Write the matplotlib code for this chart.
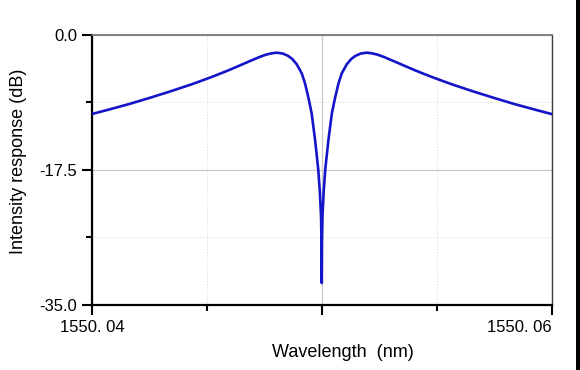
import matplotlib
matplotlib.use("Agg")
import matplotlib.pyplot as plt
from matplotlib.patches import Rectangle
from matplotlib.ticker import FixedLocator

plt.rcParams["font.family"] = ["Liberation Sans", "DejaVu Sans"]

# values
wavelength = [
    1550.04000, 1550.04078, 1550.04165, 1550.04252, 1550.04340, 1550.04427,
    1550.04470, 1550.04514, 1550.04557, 1550.04601, 1550.04644, 1550.04688,
    1550.04731, 1550.04757, 1550.04783, 1550.04805, 1550.04831, 1550.04853,
    1550.04871, 1550.04891, 1550.04913, 1550.04927, 1550.04941, 1550.04956,
    1550.04971, 1550.04985, 1550.04992, 1550.04997, 1550.04999, 1550.05000,
    1550.05001, 1550.05003, 1550.05008, 1550.05015, 1550.05029, 1550.05044,
    1550.05059, 1550.05073, 1550.05087, 1550.05109, 1550.05129, 1550.05147,
    1550.05169, 1550.05195, 1550.05217, 1550.05243, 1550.05269, 1550.05312,
    1550.05356, 1550.05399, 1550.05443, 1550.05486, 1550.05530, 1550.05573,
    1550.05660, 1550.05748, 1550.05835, 1550.05922, 1550.06000,
]
response_db = [
    -10.24, -9.63, -8.92, -8.14, -7.32, -6.46,
    -6.00, -5.52, -5.02, -4.49, -3.94, -3.37,
    -2.83, -2.55, -2.37, -2.29, -2.41, -2.70,
    -3.09, -3.79, -4.97, -6.26, -8.00, -10.15,
    -13.61, -17.50, -20.48, -23.59, -26.96, -32.15,
    -26.96, -23.59, -20.48, -17.50, -13.61, -10.15,
    -8.00, -6.26, -4.97, -3.79, -3.09, -2.70,
    -2.41, -2.29, -2.37, -2.55, -2.83, -3.37,
    -3.94, -4.49, -5.02, -5.52, -6.00, -6.46,
    -7.32, -8.14, -8.92, -9.63, -10.24,
]

x_major = [1550.04, 1550.05, 1550.06]
x_labels = ["1550. 04", "", "1550. 06"]
x_minor = [1550.045, 1550.055]
y_major = [-35.0, -17.5, 0.0]
y_labels = ["-35.0", "-17.5", "0.0"]
y_minor = [-26.25, -8.75]

fig = plt.figure(figsize=(5.8, 3.7), dpi=100)
ax = fig.add_axes([0.1586, 0.1757, 0.7923, 0.7297])

ax.plot(wavelength, response_db, color="#1414c8", lw=1.9, zorder=3)

ax.set_xlim(1550.04, 1550.06)
ax.set_ylim(-35, 0)
ax.xaxis.set_major_locator(FixedLocator(x_major))
ax.xaxis.set_minor_locator(FixedLocator(x_minor))
ax.yaxis.set_major_locator(FixedLocator(y_major))
ax.yaxis.set_minor_locator(FixedLocator(y_minor))
ax.set_xticklabels(x_labels)
ax.set_yticklabels(y_labels)

ax.grid(which="major", color="#c8c8c8", lw=0.9, ls="-")
ax.grid(which="minor", color="#d8d8d8", lw=0.7, ls=(0, (1, 2)))

ax.tick_params(which="major", direction="out", length=7.5, width=1.5,
               pad=3, colors="black")
ax.tick_params(which="minor", direction="out", length=4.5, width=1.5)
ax.tick_params(axis="y", labelsize=12)
ax.tick_params(axis="x", labelsize=12)
xt = ax.get_xticklabels()
xt[0].set_ha("center")
xt[-1].set_ha("right")

for side in ("left", "bottom"):
    ax.spines[side].set_linewidth(1.6)
    ax.spines[side].set_color("black")
ax.spines["top"].set_color("#707070")
ax.spines["top"].set_linewidth(1.2)
ax.spines["right"].set_color("#404040")
ax.spines["right"].set_linewidth(1.0)

ax.set_xlabel("Wavelength  (nm)", fontsize=13)
ax.set_ylabel("Intensity response (dB)", fontsize=13)
ax.xaxis.set_label_coords(0.545, -0.144)
ax.yaxis.set_label_coords(-0.142, 0.533)

fig.patches.append(Rectangle((576 / 580, 0), 4 / 580, 1, transform=fig.transFigure,
                             facecolor="black", edgecolor="none"))

fig.savefig("out.png", dpi=100)
